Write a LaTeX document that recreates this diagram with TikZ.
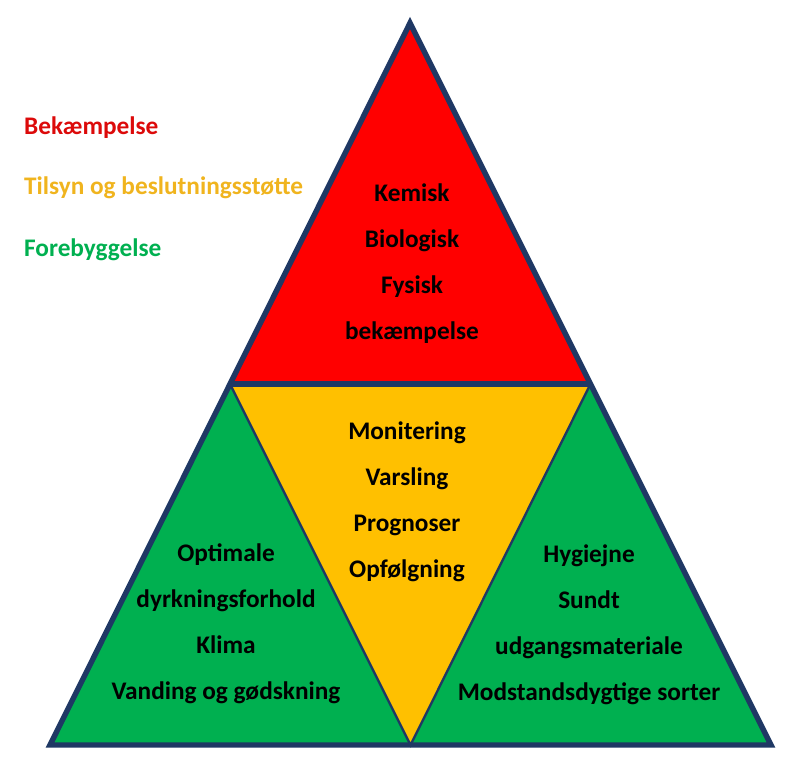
\documentclass[tikz,border=0pt]{standalone}
\usepackage{fontspec}
\setmainfont{Carlito}
\usetikzlibrary{calc}
\definecolor{pyrRed}{RGB}{255,0,0}
\definecolor{pyrYellow}{RGB}{255,192,0}
\definecolor{pyrGreen}{RGB}{0,176,80}
\definecolor{pyrLine}{RGB}{31,56,100}
\definecolor{legRed}{RGB}{220,10,10}
\definecolor{legYellow}{RGB}{240,180,30}
\begin{document}
\begin{tikzpicture}[x=0.3mm,y=-0.3mm,
    label/.style={font=\bfseries\fontsize{21.6}{39.3}\selectfont, align=center},
    legend/.style={font=\bfseries\fontsize{21.6}{26}\selectfont, anchor=west}]
    \useasboundingbox (0,0) rectangle (801,768);
    %Corners
    \coordinate (Top) at (410,23);
    \coordinate (BotL) at (50,745);
    \coordinate (BotR) at (771,745);
    \coordinate (BotM) at ($(BotL)!0.5!(BotR)$);
    \coordinate (MidL) at ($(Top)!0.5!(BotL)$);
    \coordinate (MidR) at ($(Top)!0.5!(BotR)$);

    %Fields
    \fill[pyrRed] (Top) -- (MidL) -- (MidR) -- cycle;
    \fill[pyrYellow] (MidL) -- (MidR) -- (BotM) -- cycle;
    \fill[pyrGreen] (MidL) -- (BotL) -- (BotM) -- cycle;
    \fill[pyrGreen] (MidR) -- (BotM) -- (BotR) -- cycle;

    %Lines
    \draw[pyrLine, line width=2pt] (MidL) -- (BotM) -- (MidR);
    \draw[pyrLine, line width=4.4pt] (MidL) -- (MidR);
    \draw[pyrLine, line width=4.6pt] (Top) -- (BotL) -- (BotR) -- cycle;

    %Texts
    \node[label] (Control) at (412,264) {Kemisk\\Biologisk\\Fysisk\\bekæmpelse};
    \node[label] (Monitor) at (407,502) {Monitering\\Varsling\\Prognoser\\Opfølgning};
    \node[label] (PreventL) at (226,624) {Optimale\\dyrkningsforhold\\Klima\\Vanding og gødskning};
    \node[label] (PreventR) at (589,625) {Hygiejne\\Sundt\\udgangsmateriale\\Modstandsdygtige sorter};

    %Legend
    \node[legend, legRed] (LegControl) at (20,128) {Bekæmpelse};
    \node[legend, legYellow] (LegMonitor) at (20,188) {Tilsyn og beslutningsstøtte};
    \node[legend, pyrGreen] (LegPrevent) at (20,250) {Forebyggelse};
\end{tikzpicture}
\end{document}
